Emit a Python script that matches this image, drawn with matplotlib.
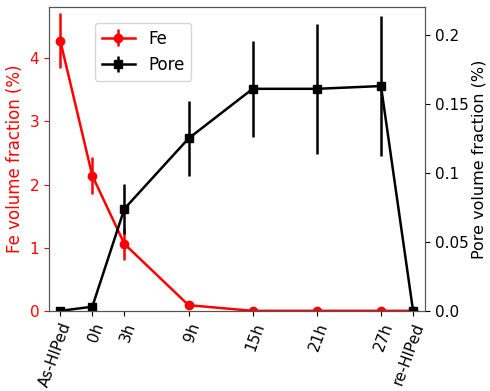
import matplotlib
matplotlib.use("Agg")
import matplotlib.pyplot as plt

categories = ["As-HIPed", "0h", "3h", "9h", "15h", "21h", "27h", "re-HIPed"]
x_pos = [-3, 0, 3, 9, 15, 21, 27, 30]
fe_values = [4.28, 2.14, 1.06, 0.09, 0.0, 0.0, 0.0, 0.0]
fe_err = [0.43, 0.29, 0.25, 0.06, 0.0, 0.0, 0.0, 0.0]
pore_values = [0.0, 0.003, 0.074, 0.125, 0.161, 0.161, 0.163, 0.0]
pore_err = [0.0, 0.0, 0.018, 0.027, 0.035, 0.047, 0.051, 0.0]

fig, ax = plt.subplots(figsize=(4.9, 3.91), dpi=100)
fig.subplots_adjust(left=0.10, right=0.867, top=0.982, bottom=0.205)

h1 = ax.errorbar(x_pos, fe_values, yerr=fe_err, color="red", marker="o",
                 markersize=6, linewidth=1.8, elinewidth=1.8, label="Fe")
ax.set_xlim(-4.05, 31.1)
ax.set_ylim(0, 4.81)
ax.set_ylabel("Fe volume fraction (%)", color="red", fontsize=12)
ax.tick_params(axis="y", colors="red", labelsize=11)
ax.set_xticks(x_pos)
ax.set_xticklabels(categories, rotation=70, fontsize=11, ha="right",
                   rotation_mode="anchor")

ax2 = ax.twinx()
h2 = ax2.errorbar(x_pos, pore_values, yerr=pore_err, color="black", marker="s",
                  markersize=6, linewidth=1.8, elinewidth=1.8, label="Pore")
ax2.set_ylim(0, 0.2203)
ax2.set_yticks([0.0, 0.05, 0.1, 0.15, 0.2])
ax2.set_yticklabels(["0.0", "0.05", "0.1", "0.15", "0.2"])
ax2.set_ylabel("Pore volume fraction (%)", fontsize=11.5, labelpad=2)
ax2.tick_params(axis="y", labelsize=11)

for a in (ax, ax2):
    for s in a.spines.values():
        s.set_color("#555555")

ax.legend([h1, h2], ["Fe", "Pore"], loc="upper left",
          bbox_to_anchor=(0.1, 0.975), fontsize=12)

fig.savefig("out.png", dpi=100)
